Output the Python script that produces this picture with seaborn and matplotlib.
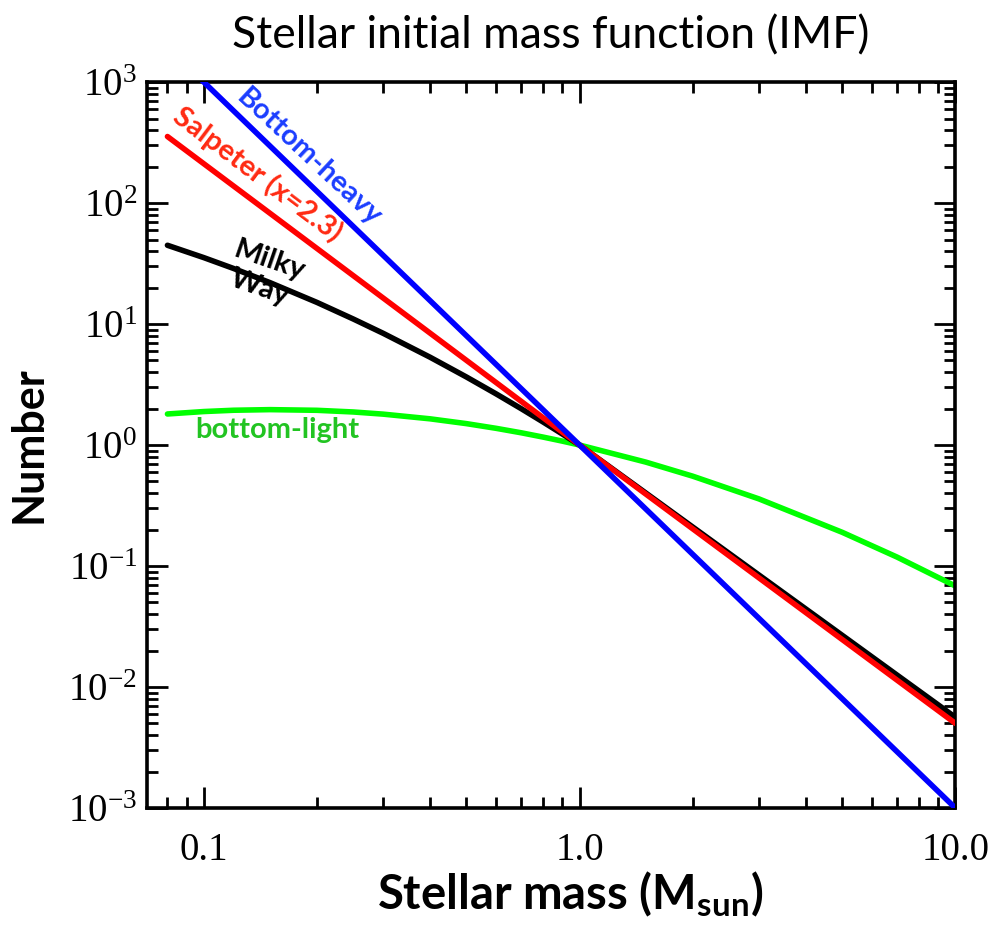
import numpy as np
import pandas as pd
import matplotlib
matplotlib.use("Agg")
import matplotlib.pyplot as plt
import seaborn as sns
from matplotlib.ticker import LogLocator, FixedLocator, FixedFormatter, NullFormatter

# ---- data ----
mass_grid = [0.08, 0.1, 0.12, 0.15, 0.2, 0.25, 0.3, 0.4, 0.5, 0.6, 0.7, 0.8, 0.9,
             1.0, 1.5, 2.0, 3.0, 5.0, 7.0, 10.0]
milky_way = [44.8, 35.4, 28.8, 22.0, 15.1, 11.0, 8.39, 5.32, 3.65, 2.645, 1.994, 1.549,
             1.2325, 1.0, 0.4017, 0.2102, 0.0844, 0.02675, 0.01254, 0.005623]
bottom_light = [1.806, 1.892, 1.939, 1.962, 1.937, 1.876, 1.801, 1.647, 1.503, 1.374,
                1.262, 1.163, 1.077, 1.0, 0.723, 0.553, 0.359, 0.190, 0.1185, 0.0684]
salpeter_mass = [0.08, 1.0, 10.0]
salpeter = [355.0, 1.0, 0.005012]
heavy_mass = [0.08, 0.1, 1.0, 10.0]
bottom_heavy = [1953.0, 1000.0, 1.0, 0.001]

xtick_vals = [0.1, 1.0, 10.0]
xtick_labels = ["0.1", "1.0", "10.0"]

sns.set_theme(style="ticks")
plt.rcParams["font.family"] = ["Liberation Serif", "DejaVu Serif"]
plt.rcParams["mathtext.fontset"] = "custom"
plt.rcParams["mathtext.rm"] = "Liberation Serif"
plt.rcParams["mathtext.bf"] = "Lato:bold"
for k in ["text.color", "axes.labelcolor", "xtick.color", "ytick.color",
          "xtick.labelcolor", "ytick.labelcolor", "axes.edgecolor"]:
    plt.rcParams[k] = "black"

fig = plt.figure(figsize=(9.92, 9.33), dpi=100)
ax = fig.add_axes([0.148, 0.134, 0.815, 0.778])

sns.lineplot(x=mass_grid, y=bottom_light, ax=ax, color="#00ff00", lw=4, zorder=2)
sns.lineplot(x=mass_grid, y=milky_way, ax=ax, color="black", lw=4, zorder=3)
sns.lineplot(x=salpeter_mass, y=salpeter, ax=ax, color="#ff0000", lw=4, zorder=4)
sns.lineplot(x=heavy_mass, y=bottom_heavy, ax=ax, color="#0000ff", lw=4, zorder=5)

ax.set_xscale("log")
ax.set_yscale("log")
ax.set_xlim(0.0705, 10.0)
ax.set_ylim(1e-3, 1e3)

ax.xaxis.set_major_locator(FixedLocator(xtick_vals))
ax.xaxis.set_major_formatter(FixedFormatter(xtick_labels))
ax.xaxis.set_minor_locator(LogLocator(base=10, subs=np.arange(2, 10)))
ax.xaxis.set_minor_formatter(NullFormatter())
ax.yaxis.set_major_locator(LogLocator(base=10, numticks=10))
ax.yaxis.set_minor_locator(LogLocator(base=10, subs=np.arange(2, 10), numticks=20))
ax.yaxis.set_minor_formatter(NullFormatter())
ax.xaxis.get_offset_text().set_visible(False)
ax.yaxis.get_offset_text().set_visible(False)

for s in ax.spines.values():
    s.set_linewidth(2.6)
    s.set_color("black")
    s.set_visible(True)
ax.tick_params(which="both", direction="in", top=True, right=True, colors="black",
               width=2)
ax.tick_params(which="major", length=15)
ax.tick_params(which="minor", length=8)
ax.tick_params(axis="x", which="major", labelsize=28, pad=17)
ax.tick_params(axis="y", which="major", labelsize=28, pad=7)

ax.set_title("Stellar initial mass function (IMF)", family="Lato", fontsize=32, pad=24)
ax.set_xlabel(r"Stellar mass (M$_{\mathbf{sun}}$)", family="Lato", weight="bold",
              fontsize=34)
ax.xaxis.set_label_coords(0.523, -0.085)
ax.set_ylabel("Number", family="Lato", weight="bold", fontsize=31, labelpad=14)

ax.text(0.19, 240, "Bottom-heavy", color="#1b3dff", family="Lato", weight="bold",
        fontsize=21, rotation=-43, ha="center", va="center", rotation_mode="anchor")
ax.text(0.139, 174, "Salpeter (x=2.3)", color="#ff2a12", family="Lato", weight="bold",
        fontsize=21, rotation=-37, ha="center", va="center", rotation_mode="anchor")
ax.text(0.145, 26.0, "Milky\nWay", color="black", family="Lato", weight="bold",
        fontsize=21, rotation=-19, ha="center", va="center", rotation_mode="anchor",
        linespacing=1.1)
ax.text(0.157, 1.33, "bottom-light", color="#22c422", family="Lato", weight="bold",
        fontsize=21, ha="center", va="center")

fig.savefig("out.png", dpi=100)
